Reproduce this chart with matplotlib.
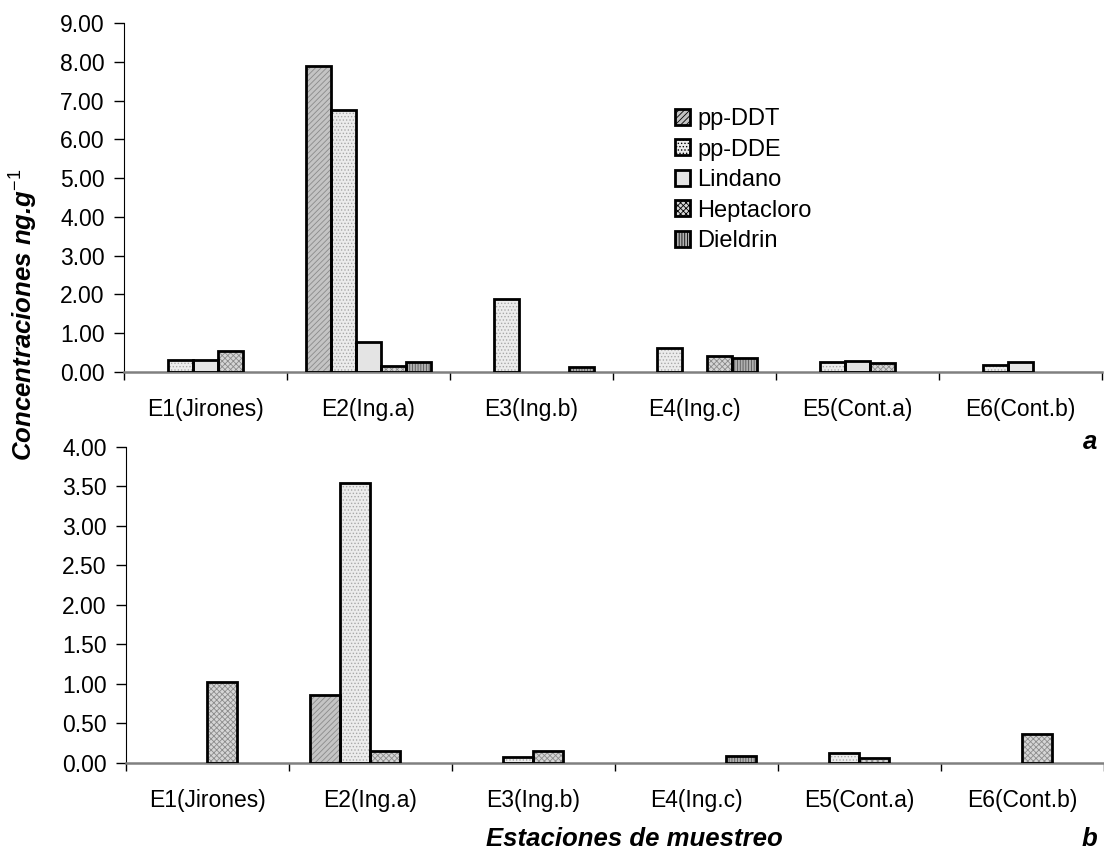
import matplotlib.pyplot as plt
import numpy as np
from matplotlib.ticker import FixedLocator, FormatStrFormatter

plt.rcParams['font.family'] = ['Liberation Sans', 'DejaVu Sans']
plt.rcParams['mathtext.fontset'] = 'custom'
plt.rcParams['mathtext.rm'] = 'Liberation Sans'
plt.rcParams['mathtext.it'] = 'Liberation Sans:italic'
plt.rcParams['mathtext.bf'] = 'Liberation Sans:bold'
plt.rcParams['hatch.linewidth'] = 0.6

estaciones = ['E1(Jirones)', 'E2(Ing.a)', 'E3(Ing.b)', 'E4(Ing.c)', 'E5(Cont.a)', 'E6(Cont.b)']

# panel a (5 compuestos)
a_ppDDT = [0.0, 7.90, 0.0, 0.0, 0.0, 0.0]
a_ppDDE = [0.31, 6.75, 1.87, 0.63, 0.26, 0.17]
a_lindano = [0.31, 0.78, 0.0, 0.0, 0.28, 0.27]
a_hepta = [0.55, 0.16, 0.0, 0.40, 0.22, 0.0]
a_dieldrin = [0.0, 0.27, 0.12, 0.35, 0.0, 0.0]

# panel b (sin lindano)
b_ppDDT = [0.0, 0.86, 0.0, 0.0, 0.0, 0.0]
b_ppDDE = [0.0, 3.55, 0.07, 0.0, 0.13, 0.0]
b_hepta = [1.03, 0.15, 0.15, 0.0, 0.06, 0.37]
b_dieldrin = [0.0, 0.0, 0.0, 0.09, 0.0, 0.0]

estilos = {
    'pp-DDT': dict(fc='#c4c4c4', hatch='//////', hc='#8a8a8a'),
    'pp-DDE': dict(fc='#ececec', hatch='.....', hc='#a8a8a8'),
    'Lindano': dict(fc='#e4e4e4', hatch=None, hc='#e4e4e4'),
    'Heptacloro': dict(fc='#d6d6d6', hatch='xxxxxx', hc='#8c8c8c'),
    'Dieldrin': dict(fc='#b0b0b0', hatch='||||||', hc='#555555'),
}


def barras(ax, series, width):
    n = len(series)
    x = np.arange(len(estaciones)) + 0.5
    handles = []
    for k, (nombre, vals) in enumerate(series):
        st = estilos[nombre]
        vals = np.array(vals)
        pos = x + (k - (n - 1) / 2) * width
        m = vals > 0  # Excel no dibuja barras de valor cero
        ax.bar(pos[m], vals[m], width, color=st['fc'], hatch=st['hatch'],
               edgecolor=st['hc'], linewidth=0, zorder=2)
        ax.bar(pos[m], vals[m], width, fill=False, edgecolor='black',
               linewidth=2.0, zorder=3)
        h = plt.Rectangle((0, 0), 1, 1, facecolor=st['fc'], hatch=st['hatch'],
                          edgecolor='black', linewidth=2.0)
        handles.append(h)
    return handles


def ejes(ax, ymax, step):
    ax.set_xlim(0, 6)
    ax.set_ylim(0, ymax)
    ax.set_yticks(np.arange(0, ymax + step / 2, step))
    ax.yaxis.set_major_formatter(FormatStrFormatter('%.2f'))
    ax.xaxis.set_major_locator(FixedLocator(np.arange(0, 7)))
    ax.xaxis.set_minor_locator(FixedLocator(np.arange(6) + 0.5))
    ax.set_xticklabels([], minor=False)
    ax.set_xticklabels(estaciones, minor=True)
    ax.tick_params(axis='x', which='major', direction='out', length=6, width=1)
    ax.tick_params(axis='x', which='minor', length=0, labelsize=16.5, pad=19)
    ax.tick_params(axis='y', direction='out', length=7, width=1,
                   labelsize=16.5, pad=7)
    for s in ['top', 'right']:
        ax.spines[s].set_visible(False)
    ax.spines['left'].set_color('black')
    ax.spines['bottom'].set_color('#808080')
    ax.spines['bottom'].set_linewidth(1.8)


fig = plt.figure(figsize=(11.04, 8.52), dpi=100)
ax1 = fig.add_axes([0.1123, 0.5634, 0.8859, 0.4096])
ax2 = fig.add_axes([0.1141, 0.1045, 0.8859, 0.3709])

hs = barras(ax1, [('pp-DDT', a_ppDDT), ('pp-DDE', a_ppDDE), ('Lindano', a_lindano),
                  ('Heptacloro', a_hepta), ('Dieldrin', a_dieldrin)], 0.153)
ejes(ax1, 9, 1)
ax1.legend(hs, ['pp-DDT', 'pp-DDE', 'Lindano', 'Heptacloro', 'Dieldrin'],
           loc='upper left', bbox_to_anchor=(0.563, 0.756), frameon=False,
           fontsize=17, handlelength=0.65, handleheight=0.65, handletextpad=0.3,
           labelspacing=0.36, borderaxespad=0, borderpad=0)

barras(ax2, [('pp-DDT', b_ppDDT), ('pp-DDE', b_ppDDE), ('Heptacloro', b_hepta),
             ('Dieldrin', b_dieldrin)], 0.184)
ejes(ax2, 4, 0.5)

fig.text(0.022, 0.63, 'Concentraciones ng.g$^{-1}$', rotation=90, ha='center',
         va='center', fontsize=18.5, fontweight='bold', fontstyle='italic')
fig.text(0.575, 0.0155, 'Estaciones de muestreo', ha='center', va='center',
         fontsize=18.5, fontweight='bold', fontstyle='italic')
fig.text(0.987, 0.481, 'a', ha='center', va='center', fontsize=18.5,
         fontweight='bold', fontstyle='italic')
fig.text(0.987, 0.0155, 'b', ha='center', va='center', fontsize=18.5,
         fontweight='bold', fontstyle='italic')

fig.savefig('out.png', dpi=100)
